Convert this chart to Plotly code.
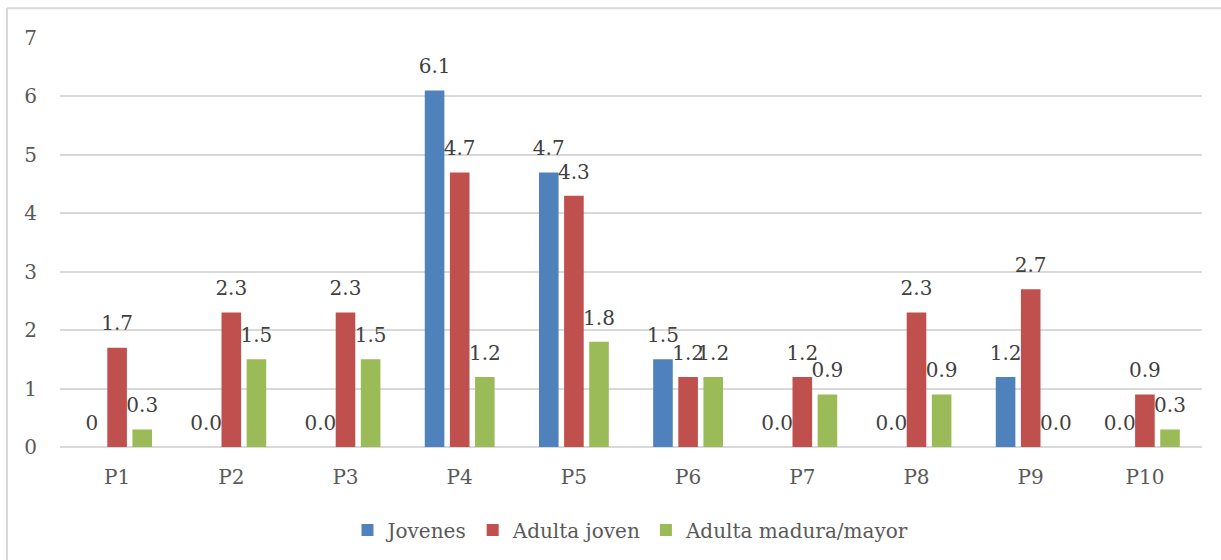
import plotly.graph_objects as go

categories = ["P1", "P2", "P3", "P4", "P5", "P6", "P7", "P8", "P9", "P10"]
jovenes = [0, 0.0, 0.0, 6.1, 4.7, 1.5, 0.0, 0.0, 1.2, 0.0]
adulta_joven = [1.7, 2.3, 2.3, 4.7, 4.3, 1.2, 1.2, 2.3, 2.7, 0.9]
adulta_mayor = [0.3, 1.5, 1.5, 1.2, 1.8, 1.2, 0.9, 0.9, 0.0, 0.3]

series_names = ["Jovenes", "Adulta joven", "Adulta madura/mayor"]
series_colors = ["#4F81BD", "#C0504D", "#9BBB59"]

# First Jovenes value is shown without a decimal
jovenes_labels = ["0"] + [f"{v:.1f}" for v in jovenes[1:]]
adulta_joven_labels = [f"{v:.1f}" for v in adulta_joven]
adulta_mayor_labels = [f"{v:.1f}" for v in adulta_mayor]

series_values = [jovenes, adulta_joven, adulta_mayor]
series_labels = [jovenes_labels, adulta_joven_labels, adulta_mayor_labels]

FONT = "DejaVu Serif"
TEXT_COLOR = "#595959"
GRID = "#D9D9D9"
GAP = 0.34

fig = go.Figure()

for name, vals, color in zip(series_names, series_values, series_colors):
    fig.add_trace(go.Bar(
        x=categories, y=vals, name=name,
        marker=dict(color=color, line=dict(width=0)),
        hoverinfo="x+y",
    ))

# Value labels, grouped the same way as the bars
for name, vals, labels in zip(series_names, series_values, series_labels):
    fig.add_trace(go.Scatter(
        x=categories, y=vals, text=labels, mode="markers+text",
        textposition="top center",
        marker=dict(size=18, opacity=0),
        textfont=dict(family=FONT, size=20, color="#404040"),
        showlegend=False, hoverinfo="skip", cliponaxis=False,
    ))

fig.update_layout(
    width=1221, height=560,
    margin=dict(l=60, r=19, t=38, b=112),
    paper_bgcolor="white", plot_bgcolor="white",
    barmode="group", bargap=GAP, bargroupgap=0.22,
    scattermode="group", scattergap=GAP,
    font=dict(family=FONT, size=20, color=TEXT_COLOR),
    showlegend=True,
    legend=dict(
        orientation="h", x=0.5, xanchor="center", y=-0.2, yanchor="middle",
        font=dict(family=FONT, size=20, color=TEXT_COLOR),
        itemwidth=30, traceorder="normal",
    ),
    xaxis=dict(
        showgrid=False, showline=False, ticks="", zeroline=False,
        tickfont=dict(family=FONT, size=20, color=TEXT_COLOR),
        ticklabelstandoff=16,
    ),
    yaxis=dict(
        range=[0, 7], dtick=1, showgrid=True, gridcolor=GRID, gridwidth=1.5,
        zeroline=True, zerolinecolor=GRID, zerolinewidth=1.5,
        showline=False, ticks="",
        tickfont=dict(family=FONT, size=20, color=TEXT_COLOR),
        ticklabelstandoff=22,
    ),
    shapes=[
        dict(type="line", xref="paper", yref="paper", x0=-0.0464, x1=-0.0464, y0=-0.5, y1=1.073,
             line=dict(color=GRID, width=2)),
        dict(type="line", xref="paper", yref="paper", x0=-0.0464, x1=1.1, y0=1.073, y1=1.073,
             line=dict(color=GRID, width=2)),
    ],
)

fig.write_html("out.html")
